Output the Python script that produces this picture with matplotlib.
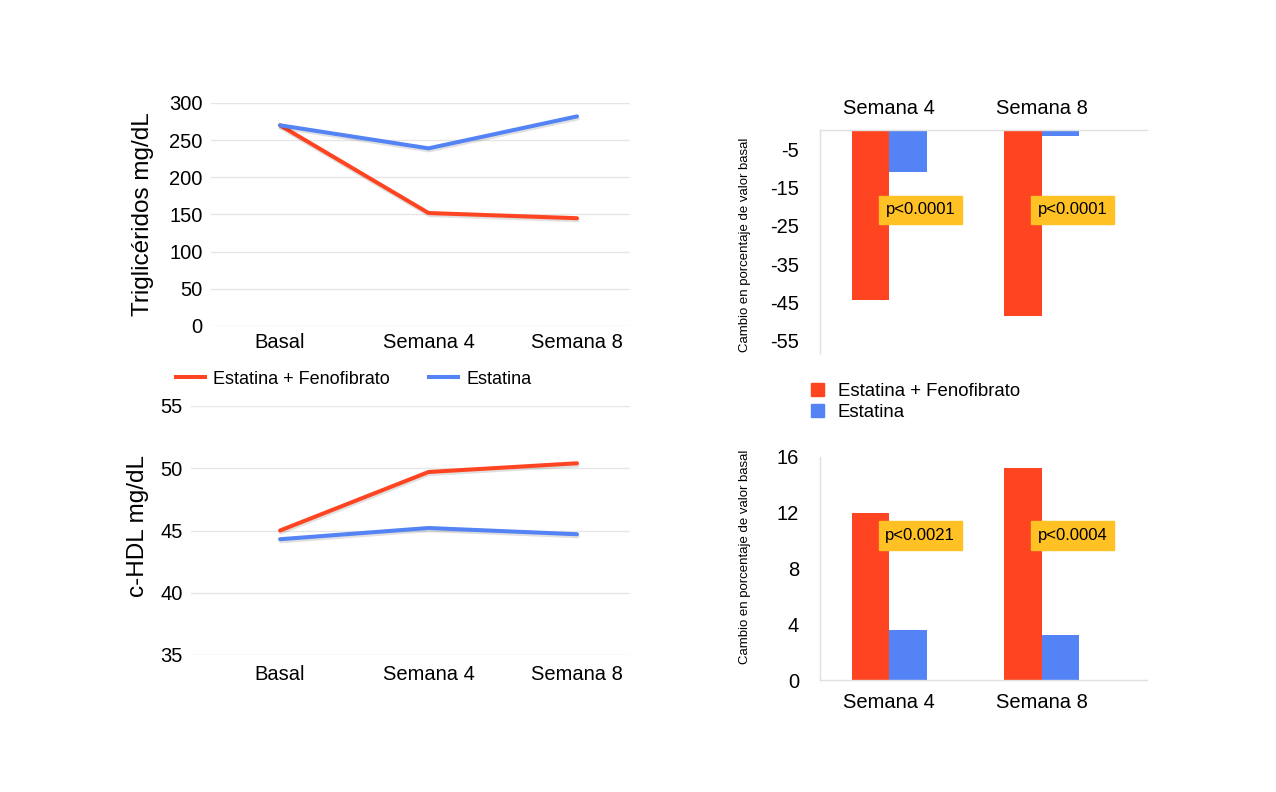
import matplotlib
matplotlib.use("Agg")
import matplotlib.pyplot as plt
import matplotlib.patheffects as pe
from matplotlib.patches import Patch
import numpy as np

plt.rcParams['font.family'] = ['Liberation Sans', 'DejaVu Sans']
plt.rcParams['axes.unicode_minus'] = False

# data
visits = ['Basal', 'Semana 4', 'Semana 8']
tg_combo = [270, 152, 145]
tg_statin = [270, 239, 282]
hdl_combo = [45.0, 49.7, 50.4]
hdl_statin = [44.3, 45.2, 44.7]

weeks = ['Semana 4', 'Semana 8']
tg_pct_combo = [-44.3, -48.5]
tg_pct_statin = [-11.0, -1.5]
tg_pvals = ['p<0.0001', 'p<0.0001']
hdl_pct_combo = [12.0, 15.2]
hdl_pct_statin = [3.6, 3.2]
hdl_pvals = ['p<0.0021', 'p<0.0004']

series = ['Estatina + Fenofibrato', 'Estatina']
RED = '#FF4422'
BLUE = '#5383F4'
YELLOW = '#FFC124'
GRID = '#E6E6E6'

W, H = 1276, 792
fig = plt.figure(figsize=(W / 100, H / 100), dpi=100)


def px_axes(left, top, right, bottom):
    return fig.add_axes([left / W, 1 - bottom / H, (right - left) / W, (bottom - top) / H])


def line_chart(ax, combo, statin, ylim, yticks, xleft):
    x = np.arange(len(visits))
    shadow = [pe.SimpleLineShadow(offset=(0.5, -1.5), alpha=0.12), pe.Normal()]
    ax.plot(x, combo, color=RED, lw=2.9, solid_capstyle='round', path_effects=shadow, zorder=3,
            clip_on=False)
    ax.plot(x, statin, color=BLUE, lw=2.9, solid_capstyle='round', path_effects=shadow, zorder=3,
            clip_on=False)
    ax.set_xlim(xleft, 2.357)
    ax.set_ylim(*ylim)
    ax.set_yticks(yticks)
    ax.set_xticks(x)
    ax.set_xticklabels(visits)
    for s in ax.spines.values():
        s.set_visible(False)
    ax.grid(axis='y', color=GRID, lw=1)
    ax.set_axisbelow(True)
    ax.tick_params(length=0, labelsize=14.5)
    ax.tick_params(axis='y', pad=6)


ax1 = px_axes(211, 103, 630, 326)
line_chart(ax1, tg_combo, tg_statin, (0, 300), np.arange(0, 301, 50), -0.465)
ax1.tick_params(axis='x', pad=5)

ax2 = px_axes(191, 406, 630, 655)
line_chart(ax2, hdl_combo, hdl_statin, (35, 55), np.arange(35, 56, 5), -0.6)
ax2.tick_params(axis='x', pad=7)

fig.text(143 / W, 1 - 214 / H, 'Triglicéridos mg/dL', rotation=90, ha='center', va='center',
         fontsize=17.5)
fig.text(138 / W, 1 - 526 / H, 'c-HDL mg/dL', rotation=90, ha='center', va='center',
         fontsize=17.5)

line_handles = [plt.Line2D([], [], color=RED, lw=2.9), plt.Line2D([], [], color=BLUE, lw=2.9)]
fig.legend(line_handles, series, loc='center left', bbox_to_anchor=(176 / W, 1 - 379 / H),
           ncol=2, frameon=False, fontsize=13, handlelength=1.6, handletextpad=0.45,
           columnspacing=2.2, borderpad=0, borderaxespad=0)


def bar_chart(ax, combo, statin, pvals, py):
    x = np.arange(len(weeks))
    w = 0.247
    ax.bar(x - w / 2, combo, w, color=RED, zorder=2)
    ax.bar(x + w / 2, statin, w, color=BLUE, zorder=2)
    for i, p in enumerate(pvals):
        ax.text(x[i] + 0.203, py, p, ha='center', va='center', fontsize=12, zorder=4,
                bbox=dict(boxstyle='square,pad=0.4', fc=YELLOW, ec=YELLOW))
    ax.set_xlim(-0.455, 1.69)
    ax.set_xticks(x)
    ax.set_xticklabels(weeks)
    ax.tick_params(length=0, labelsize=14.5)
    ax.tick_params(axis='y', pad=15)
    ax.tick_params(axis='x', pad=9)
    for s in ax.spines.values():
        s.set_color('#E0E0E0')
        s.set_linewidth(1)


ax3 = px_axes(820, 130, 1147, 353)
bar_chart(ax3, tg_pct_combo, tg_pct_statin, tg_pvals, -20.8)
ax3.set_ylim(-58.2, 0)
ax3.set_yticks(np.arange(-5, -56, -10))
ax3.xaxis.tick_top()
ax3.spines['right'].set_visible(False)
ax3.spines['bottom'].set_visible(False)

ax4 = px_axes(820, 457, 1147, 680)
bar_chart(ax4, hdl_pct_combo, hdl_pct_statin, hdl_pvals, 10.37)
ax4.set_ylim(0, 16)
ax4.set_yticks(np.arange(0, 17, 4))
ax4.spines['right'].set_visible(False)
ax4.spines['top'].set_visible(False)

ylab = 'Cambio en porcentaje de valor basal'
fig.text(745 / W, 1 - 245 / H, ylab, rotation=90, ha='center', va='center', fontsize=9.5)
fig.text(745 / W, 1 - 557 / H, ylab, rotation=90, ha='center', va='center', fontsize=9.5)

bar_handles = [Patch(color=RED), Patch(color=BLUE)]
fig.legend(bar_handles, series, loc='center left', bbox_to_anchor=(811 / W, 1 - 402 / H),
           ncol=1, frameon=False, fontsize=13.4, handlelength=0.7, handleheight=0.7,
           handletextpad=0.75, labelspacing=0.2, borderpad=0, borderaxespad=0)

fig.savefig('out.png', dpi=100)
